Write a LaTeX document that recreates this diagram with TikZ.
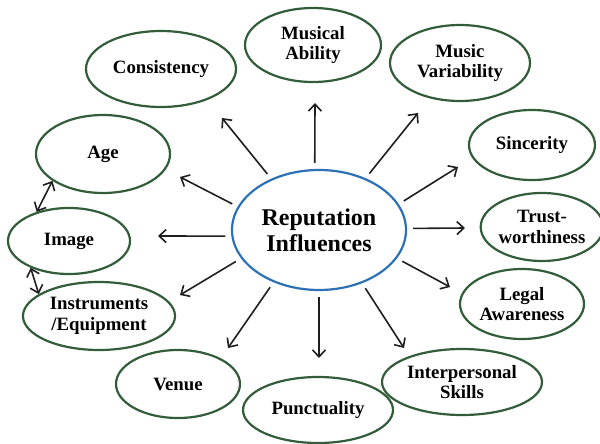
\documentclass[tikz,border=0pt]{standalone}
\usepackage{fontspec}
\setmainfont{Liberation Serif}
\usetikzlibrary{shapes.geometric, arrows.meta}
\definecolor{ringgreen}{RGB}{50,92,58}
\definecolor{hubblue}{RGB}{44,112,182}
\definecolor{arrowgray}{RGB}{30,30,30}

\begin{document}
\begin{tikzpicture}[x=0.5pt,y=-0.5pt,
    >={Straight Barb[length=3.5pt,width=6.5pt]},
    infl/.style={draw=ringgreen, line width=1.1pt, ellipse, inner sep=0pt, align=center,
        font=\fontsize{9.4}{10.2}\selectfont\bfseries},
    hub/.style={draw=hubblue, line width=1.1pt, ellipse, inner sep=0pt, align=center,
        font=\fontsize{12}{13}\selectfont\bfseries},
    arr/.style={->, draw=arrowgray, line width=0.8pt, shorten <=3pt},
    dbl/.style={<->, draw=arrowgray, line width=0.8pt}]
    \useasboundingbox (0,0) rectangle (600,444);
    % centre
    \node[hub, minimum width=87pt, minimum height=60pt] (rep) at (319,230) {Reputation\\Influences};
    % influences, clockwise from the top left
    \node[infl, minimum width=75pt, minimum height=38pt] (cons) at (161,69) {Consistency};
    \node[infl, minimum width=68pt, minimum height=37pt] (mus) at (313,45) {Musical\\Ability};
    \node[infl, minimum width=70pt, minimum height=38pt] (var) at (460,63) {Music\\Variability};
    \node[infl, minimum width=63pt, minimum height=35pt] (sinc) at (532,145) {Sincerity};
    \node[infl, minimum width=61pt, minimum height=34pt] (trust) at (542,227) {Trust-\\worthiness};
    \node[infl, minimum width=62pt, minimum height=35pt] (legal) at (522,304) {Legal\\Awareness};
    \node[infl, minimum width=80pt, minimum height=33pt] (inter) at (462,382) {Interpersonal\\Skills};
    \node[infl, minimum width=75pt, minimum height=33pt] (punct) at (318,410) {Punctuality};
    \node[infl, minimum width=62pt, minimum height=34pt] (venue) at (178,384) {Venue};
    \node[infl, minimum width=76pt, minimum height=34pt] (instr) at (99,316) {Instruments\\/Equipment};
    \node[infl, minimum width=61pt, minimum height=33pt] (img) at (69,241) {Image};
    \node[infl, minimum width=67pt, minimum height=39pt] (age) at (103,154) {Age};
    % arrow tips
    \foreach \n/\x/\y in {tCons/222/118, tAge/180/177, tMus/315/103, tVar/418/113,
        tSinc/458/167, tTrust/465/228, tLegal/450/287, tInter/404/348,
        tPunct/319/358, tVenue/228/348, tInstr/180/295, tImg/158/236}
        \coordinate (\n) at (\x,\y);
    \foreach \a/\t in {133/tCons, 164/tAge, 94/tMus, 48/tVar, 18/tSinc, 1/tTrust,
        -20/tLegal, -51/tInter, -90/tPunct, 229/tVenue, 200/tInstr, 184/tImg}
        \draw[arr] (rep.\a) -- (\t);
    \draw[dbl] (age.208) -- (img.138);
    \draw[dbl] (img.215) -- (instr.160);
\end{tikzpicture}
\end{document}
